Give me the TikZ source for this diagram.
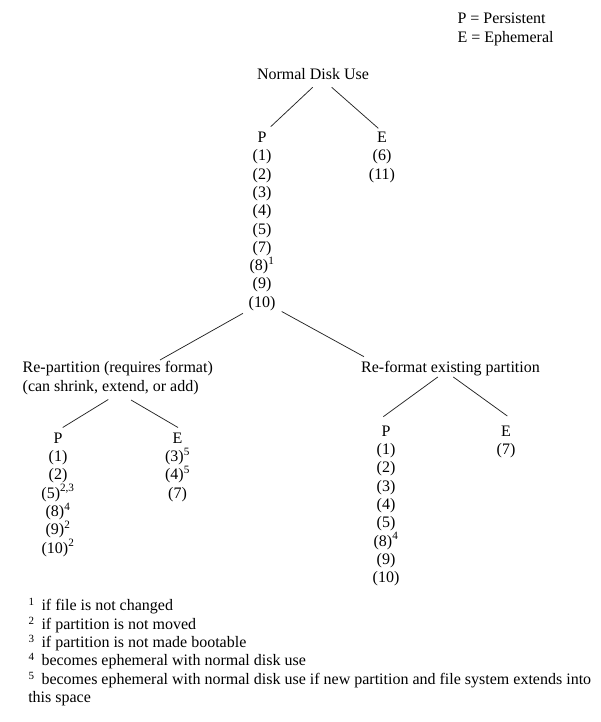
\documentclass[tikz,border=0pt]{standalone}
\usepackage{fontspec}
\setmainfont{Liberation Serif}
\begin{document}
\begin{tikzpicture}[x=1pt,y=-1pt,
  every node/.style={inner sep=0pt, outer sep=0pt, font=\fontsize{16}{18.3}\selectfont},
  txt/.style={anchor=base},
  lbl/.style={anchor=base west},
  sup/.style={anchor=base west, font=\fontsize{11}{12}\selectfont},
  edge/.style={draw=black!85, line width=0.75pt}]
\useasboundingbox (0,0) rectangle (600,722);
\fill[white] (0,0) rectangle (600,722);

% legend
\node[lbl] (legP) at (457.5,24) {P = Persistent};
\node[lbl] (legE) at (457.5,42.3) {E = Ephemeral};

% root
\node[txt] (root) at (313,80) {Normal Disk Use};

% top P column
\foreach \lab [count=\i] in {P,(1),(2),(3),(4),(5),(7),{(8)\textsuperscript{1}},(9),(10)}
  \node[txt] (tp\i) at (262,{142.5+(\i-1)*18.3}) {\lab};
% top E column
\foreach \lab [count=\i] in {E,(6),(11)}
  \node[txt] (te\i) at (382,{142.5+(\i-1)*18.3}) {\lab};

% second level headers
\node[lbl] (rep1) at (22.7,372.7) {Re-partition (requires format)};
\node[lbl] (rep2) at (22.7,391) {(can shrink, extend, or add)};
\node[txt] (refm) at (450.5,372.7) {Re-format existing partition};

% left P column
\foreach \lab [count=\i] in {P,(1),(2),{(5)\textsuperscript{2,3}},{(8)\textsuperscript{4}},{(9)\textsuperscript{2}},{(10)\textsuperscript{2}}}
  \node[txt] (lp\i) at (58,{443.3+(\i-1)*18.3}) {\lab};
% left E column
\foreach \lab [count=\i] in {E,{(3)\textsuperscript{5}},{(4)\textsuperscript{5}},(7)}
  \node[txt] (le\i) at (177.5,{443.3+(\i-1)*18.3}) {\lab};

% right P column
\foreach \lab [count=\i] in {P,(1),(2),(3),(4),(5),{(8)\textsuperscript{4}},(9),(10)}
  \node[txt] (rp\i) at (386,{436.3+(\i-1)*18.3}) {\lab};
% right E column
\foreach \lab [count=\i] in {E,(7)}
  \node[txt] (re\i) at (506,{436.3+(\i-1)*18.3}) {\lab};

% connector end points
\coordinate (rootL) at (312.7,87.3);
\coordinate (rootR) at (331.7,87.3);
\coordinate (tpT) at (270.7,126.7);
\coordinate (teT) at (378.3,128.3);
\coordinate (tpB1) at (243,313.3);
\coordinate (tpB2) at (281.7,311.5);
\coordinate (repT) at (160,360);
\coordinate (refT) at (364,356.7);
\coordinate (repBL) at (108.3,399.5);
\coordinate (repBR) at (131,400);
\coordinate (lpT) at (62.7,427.5);
\coordinate (leT) at (178,427.5);
\coordinate (refBL) at (437.8,377);
\coordinate (refBR) at (453.3,377);
\coordinate (rpT) at (383.3,416.7);
\coordinate (reT) at (507.3,416);

\draw[edge] (rootL) -- (tpT);
\draw[edge] (rootR) -- (teT);
\draw[edge] (tpB1) -- (repT);
\draw[edge] (tpB2) -- (refT);
\draw[edge] (repBL) -- (lpT);
\draw[edge] (repBR) -- (leT);
\draw[edge] (refBL) -- (rpT);
\draw[edge] (refBR) -- (reT);

% footnotes
\foreach \n/\txt [count=\i] in {1/if file is not changed,
  2/if partition is not moved,
  3/if partition is not made bootable,
  4/becomes ephemeral with normal disk use,
  5/becomes ephemeral with normal disk use if new partition and file system extends into}{
  \node[sup] (fs\i) at (28.5,{610.7+(\i-1)*18.4-5}) {\n};
  \node[lbl] (ft\i) at (41.5,{610.7+(\i-1)*18.4}) {\txt};
}
\node[lbl] (ft6) at (28.3,702.7) {this space};
\end{tikzpicture}
\end{document}
